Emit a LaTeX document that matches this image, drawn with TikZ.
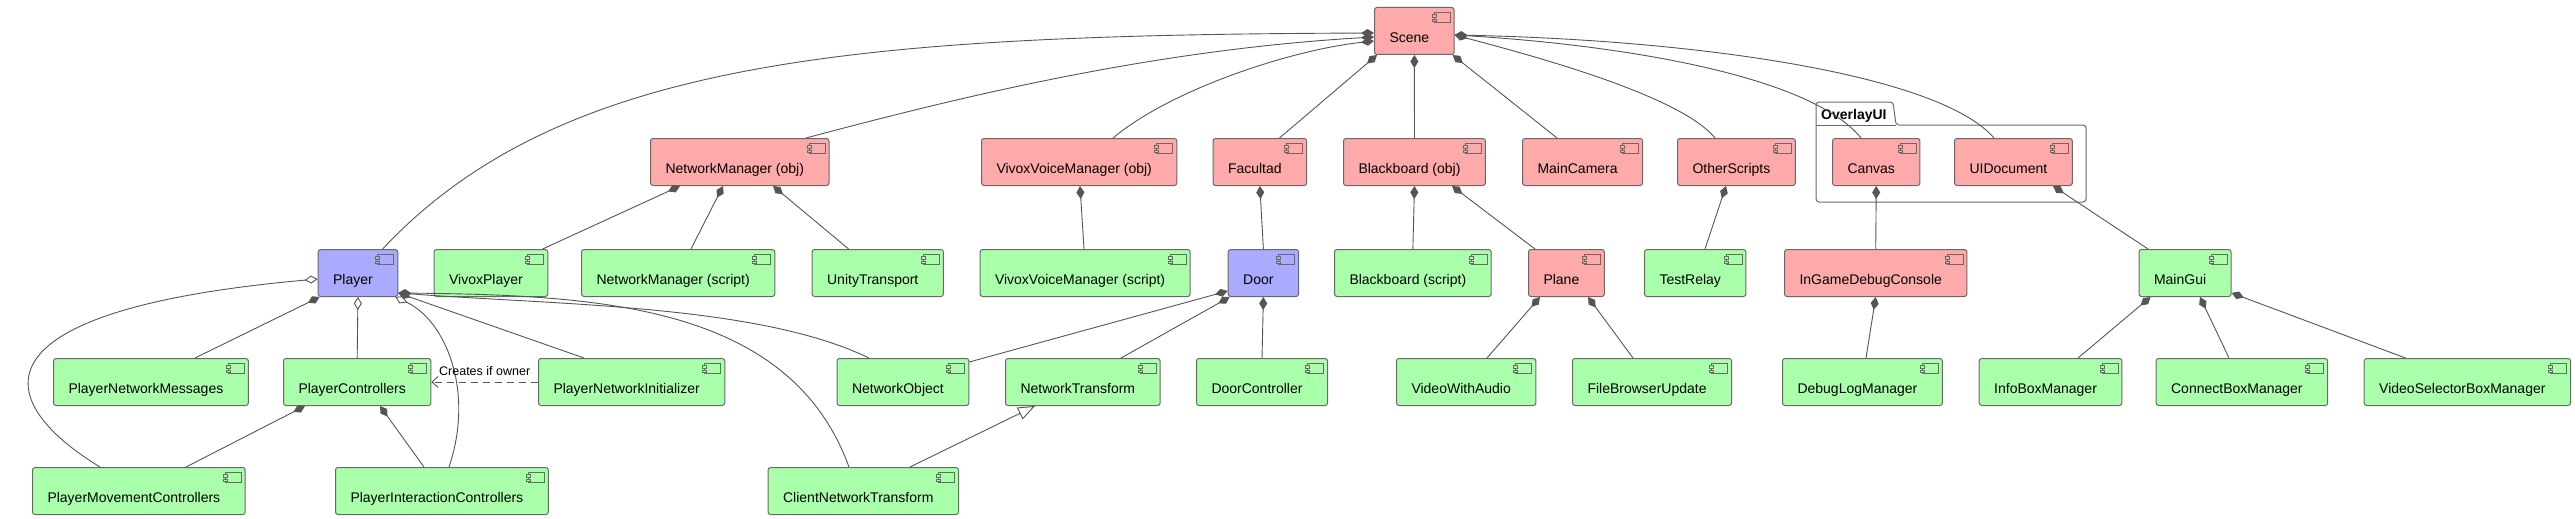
\documentclass[tikz,border=0pt]{standalone}
\usepackage{fontspec}
\setmainfont{Liberation Sans}
\usetikzlibrary{arrows.meta}

\definecolor{objred}{RGB}{255,170,170}
\definecolor{scriptgreen}{RGB}{170,255,170}
\definecolor{prefabblue}{RGB}{170,170,255}
\definecolor{boxline}{RGB}{105,105,105}
\definecolor{wire}{RGB}{85,85,85}

\begin{document}
\begin{tikzpicture}[x=1pt,y=-1pt,>=latex,
  comp/.style={draw=boxline, line width=1pt, rounded corners=2.5pt, fill=#1, anchor=north west,
    inner xsep=15pt, inner ysep=0pt, text height=35pt, text depth=12pt,
    font=\fontsize{14}{16}\selectfont, execute at end node={\hspace*{10pt}},
    path picture={
      \draw[boxline, line width=0.8pt, fill=#1, sharp corners]
        ([xshift=-20pt,yshift=-5pt]path picture bounding box.north east) rectangle ++(16pt,-10pt);
      \draw[boxline, line width=0.8pt, fill=#1, sharp corners]
        ([xshift=-22pt,yshift=-7pt]path picture bounding box.north east) rectangle ++(4pt,-2.5pt)
        ([xshift=-22pt,yshift=-11.5pt]path picture bounding box.north east) rectangle ++(4pt,-2.5pt);
    }},
  obj/.style={comp=objred},
  script/.style={comp=scriptgreen},
  prefab/.style={comp=prefabblue},
  link/.style={draw=wire, line width=0.9pt},
  composed/.style={link, {Diamond[length=13pt,width=8pt]}-},
  aggregated/.style={link, {Diamond[open,length=13pt,width=8pt,fill=white]}-},
  extends/.style={link, -{Triangle[open,length=17pt,width=13pt,fill=white]}},
  creates/.style={link, dash pattern=on 7pt off 5pt, -{Straight Barb[length=6pt,width=11pt]}},
  lbl/.style={font=\fontsize{12.5}{14}\selectfont, inner sep=1pt, text depth=0pt, above=5pt},
  frame/.style={draw=boxline, line width=1pt, rounded corners=3pt}]
\useasboundingbox (0,0) rectangle (2575,519);

\draw[frame] (1816,202) -- (1816,102) -- (1893,102) -- (1896,125) -- (2086,125) -- (2086,202) -- cycle;
\draw[frame] (1816,125) -- (1896,125);
\node(OverlayUI)[anchor=base west, font=\bfseries\fontsize{14}{16}\selectfont, inner sep=0pt] at (1821,119) {OverlayUI};

\node(Scene)[obj] at (1374,7) {Scene};

\node(NetMgrObj)[obj] at (650,138) {NetworkManager (obj)};
\node(VivoxMgrObj)[obj] at (981,138) {VivoxVoiceManager (obj)};
\node(Facultad)[obj] at (1212.5,138) {Facultad};
\node(BoardObj)[obj] at (1343,138) {Blackboard (obj)};
\node(MainCamera)[obj] at (1522,138) {MainCamera};
\node(OtherScripts)[obj] at (1677,138) {OtherScripts};
\node(Canvas)[obj] at (1832,138) {Canvas};
\node(UIDocument)[obj] at (1954,138) {UIDocument};

\node(Player)[prefab] at (317.6,249) {Player};
\node(VivoxPlayer)[script] at (433.6,249) {VivoxPlayer};
\node(NetMgrScript)[script] at (581,249) {NetworkManager (script)};
\node(UnityTransport)[script] at (811.6,249) {UnityTransport};
\node(VivoxMgrScript)[script] at (979.5,249) {VivoxVoiceManager (script)};
\node(Door)[prefab] at (1227.7,249) {Door};
\node(BoardScript)[script] at (1334,249) {Blackboard (script)};
\node(Plane)[obj] at (1528,249) {Plane};
\node(TestRelay)[script] at (1644,249) {TestRelay};
\node(DebugConsole)[obj] at (1784,249) {InGameDebugConsole};
\node(MainGui)[script] at (2138.5,249) {MainGui};

\node(NetMessages)[script] at (53,358) {PlayerNetworkMessages};
\node(Controllers)[script] at (283,358) {PlayerControllers};
\node(NetInit)[script] at (538,358) {PlayerNetworkInitializer};
\node(NetObject)[script] at (836.5,358) {NetworkObject};
\node(NetTransform)[script] at (1005,358) {NetworkTransform};
\node(DoorCtrl)[script] at (1196,358) {DoorController};
\node(VideoAudio)[script] at (1396,358) {VideoWithAudio};
\node(FileBrowser)[script] at (1572,358) {FileBrowserUpdate};
\node(DebugLog)[script] at (1782,358) {DebugLogManager};
\node(InfoBox)[script] at (1978.7,358) {InfoBoxManager};
\node(ConnectBox)[script] at (2155.6,358) {ConnectBoxManager};
\node(VideoSelector)[script] at (2363.7,358) {VideoSelectorBoxManager};

\node(MoveCtrl)[script] at (32,467) {PlayerMovementControllers};
\node(InteractCtrl)[script] at (335,467) {PlayerInteractionControllers};
\node(ClientTransform)[script] at (767.6,467) {ClientNetworkTransform};

\draw[composed] ([yshift=-26pt]Scene.north west) .. controls (850,35) and (560,60) .. ([xshift=65pt]Player.north west);
\draw[composed] ([yshift=-30pt]Scene.north west) .. controls (1150,50) and (956,98) .. ([xshift=156pt]NetMgrObj.north west);
\draw[composed] ([yshift=-34pt]Scene.north west) .. controls (1290,50) and (1170,90) .. ([xshift=132pt]VivoxMgrObj.north west);
\draw ([xshift=3pt]Scene.south west) edge[composed] ([xshift=67pt]Facultad.north west);
\draw (Scene.south) edge[composed] (BoardObj.north);
\draw ([xshift=-2pt]Scene.south east) edge[composed] ([xshift=35pt]MainCamera.north west);
\draw[composed] ([yshift=-28pt]Scene.north east) .. controls (1530,55) and (1680,95) .. ([xshift=38pt]OtherScripts.north west);
\draw[composed] ([yshift=-28pt]Scene.north east) .. controls (1620,45) and (1810,75) .. ([xshift=29pt]Canvas.north west);
\draw[composed] ([yshift=-28pt]Scene.north east) .. controls (1700,40) and (1940,75) .. ([xshift=40pt]UIDocument.north west);

\draw ([xshift=30pt]NetMgrObj.south west) edge[composed] ([xshift=109pt]VivoxPlayer.north west);
\draw ([xshift=73pt]NetMgrObj.south west) edge[composed] ([xshift=110pt]NetMgrScript.north west);
\draw ([xshift=123pt]NetMgrObj.south west) edge[composed] ([xshift=37pt]UnityTransport.north west);
\draw ([xshift=99pt]VivoxMgrObj.south west) edge[composed] ([xshift=104.5pt]VivoxMgrScript.north west);
\draw (Facultad.south) edge[composed] (Door.north);
\draw (BoardObj.south) edge[composed] (BoardScript.north);
\draw ([xshift=109pt]BoardObj.south west) edge[composed] ([xshift=7pt]Plane.north west);
\draw ([xshift=49pt]OtherScripts.south west) edge[composed] ([xshift=61pt]TestRelay.north west);
\draw (Canvas.south) edge[composed] (DebugConsole.north);
\draw ([xshift=99pt]UIDocument.south west) edge[composed] ([xshift=9.5pt]MainGui.north west);

\draw[aggregated] ([yshift=-30pt]Player.north west) .. controls (-30,310) and (-10,400) .. ([xshift=68pt]MoveCtrl.north west);
\draw ([xshift=2pt]Player.south west) edge[composed] ([xshift=142pt]NetMessages.north west);
\draw (Player.south) edge[aggregated] (Controllers.north);
\draw[aggregated] ([xshift=-3pt]Player.south east) .. controls (445,320) and (475,390) .. ([xshift=114pt]InteractCtrl.north west);
\draw ([yshift=4pt]Player.south east) edge[composed] ([xshift=46pt]NetInit.north west);
\draw[composed] ([yshift=4pt]Player.south east) .. controls (560,305) and (760,305) .. ([xshift=32.5pt]NetObject.north west);
\draw[composed] ([yshift=4pt]Player.south east) .. controls (600,295) and (790,305) .. ([xshift=81.4pt]ClientTransform.north west);
\draw (NetInit.west) edge[creates] node(OwnerNote)[lbl] {Creates if owner} (Controllers.east);
\draw ([xshift=22pt]Controllers.south west) edge[composed] ([xshift=154pt]MoveCtrl.north west);
\draw ([xshift=97pt]Controllers.south west) edge[composed] ([xshift=89pt]InteractCtrl.north west);

\draw ([yshift=6pt]Door.south west) edge[composed] ([yshift=-4pt]NetObject.north east);
\draw ([xshift=2pt]Door.south west) edge[composed] ([xshift=116pt]NetTransform.north west);
\draw (Door.south) edge[composed] (DoorCtrl.north);
\draw ([xshift=142.4pt]ClientTransform.north west) edge[extends] ([xshift=30pt]NetTransform.south west);

\draw ([xshift=12pt]Plane.south west) edge[composed] ([xshift=91pt]VideoAudio.north west);
\draw ([xshift=60pt]Plane.south west) edge[composed] ([xshift=61pt]FileBrowser.north west);
\draw (DebugConsole.south) edge[composed] ([xshift=84pt]DebugLog.north west);
\draw ([xshift=12pt]MainGui.south west) edge[composed] ([xshift=99.3pt]InfoBox.north west);
\draw ([xshift=61.5pt]MainGui.south west) edge[composed] ([xshift=73.4pt]ConnectBox.north west);
\draw ([yshift=4pt]MainGui.south east) edge[composed] ([xshift=41.8pt]VideoSelector.north west);
\end{tikzpicture}
\end{document}
